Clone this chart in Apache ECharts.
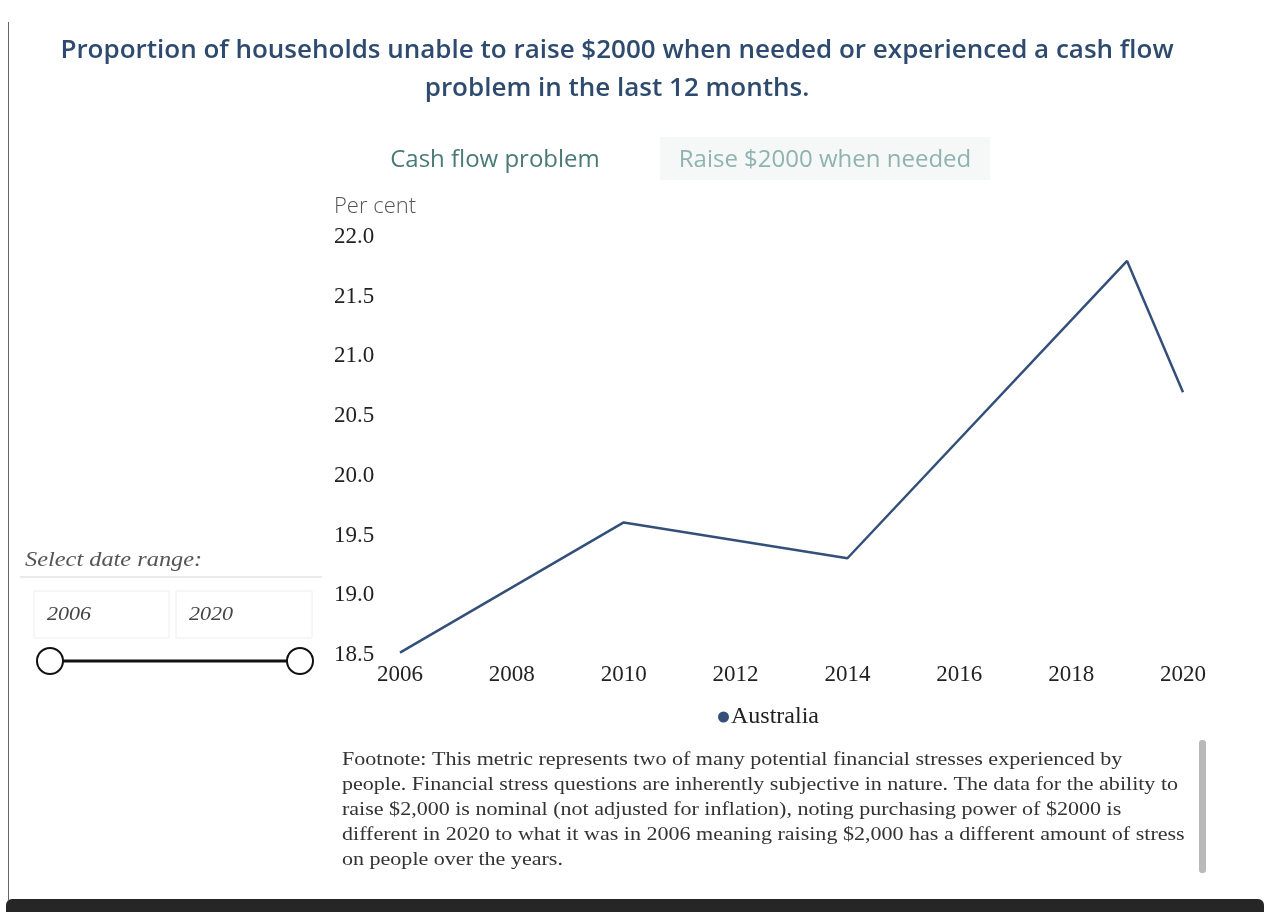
<!DOCTYPE html>
<html>
<head>
<meta charset="utf-8">
<script src="https://cdn.jsdelivr.net/npm/echarts@6/dist/echarts.min.js"></script>
<style>
  html, body { margin: 0; padding: 0; background: #fff; }
  #chart { width: 1264px; height: 912px; }
</style>
</head>
<body>
<div id="chart"></div>
<script>
// values
const years = [2006, 2010, 2014, 2019, 2020]
const cashFlow = [18.52, 19.61, 19.31, 21.80, 20.70]
const rangeLabels = ['2006', '2020']
const titleLines = [
  'Proportion of households unable to raise $2000 when needed or experienced a cash flow',
  'problem in the last 12 months.'
]
const tabLabels = ['Cash flow problem', 'Raise $2000 when needed']
const footnoteLines = [
  'Footnote: This metric represents two of many potential financial stresses experienced by',
  'people. Financial stress questions are inherently subjective in nature. The data for the ability to',
  'raise $2,000 is nominal (not adjusted for inflation), noting purchasing power of $2000 is',
  'different in 2020 to what it was in 2006 meaning raising $2,000 has a different amount of stress',
  'on people over the years.'
]

const serif = '"Liberation Serif", "DejaVu Serif", serif'
const sans = '"Open Sans", "Noto Sans", sans-serif'
const lineColor = '#34507a'

const chart = echarts.init(document.getElementById('chart'))

// the serif text in the source is a bit wider than Liberation Serif, so stretch it a little
const wide = 1.16

const graphics = [
  // page frame
  { type: 'line', shape: { x1: 8.5, y1: 22, x2: 8.5, y2: 900 }, style: { stroke: '#666', lineWidth: 1 } },
  { type: 'rect', shape: { x: 6, y: 899, width: 1258, height: 20, r: [6, 6, 0, 0] }, style: { fill: '#262626' } },
  // title
  { type: 'text', x: 617, y: 51, style: { text: titleLines[0], font: '600 26px ' + sans, fill: '#2e4a6e', align: 'center', verticalAlign: 'middle' } },
  { type: 'text', x: 617, y: 89, style: { text: titleLines[1], font: '600 26px ' + sans, fill: '#2e4a6e', align: 'center', verticalAlign: 'middle' } },
  // tabs
  { type: 'text', x: 495, y: 160, style: { text: tabLabels[0], font: '500 24px ' + sans, fill: '#4a7a78', align: 'center', verticalAlign: 'middle' } },
  { type: 'rect', shape: { x: 660, y: 137, width: 330, height: 43 }, style: { fill: '#f6f8f7' } },
  { type: 'text', x: 825, y: 160, style: { text: tabLabels[1], font: '500 24px ' + sans, fill: '#8fb3b0', align: 'center', verticalAlign: 'middle' } },
  // axis caption
  { type: 'text', x: 334, y: 207, style: { text: 'Per cent', font: '300 22px ' + sans, fill: '#555', align: 'left', verticalAlign: 'middle' } },
  // date range selector
  { type: 'text', x: 25, y: 560, scaleX: wide, style: { text: 'Select date range:', font: 'italic 21px ' + serif, fill: '#555', align: 'left', verticalAlign: 'middle' } },
  { type: 'line', shape: { x1: 20, y1: 577, x2: 322, y2: 577 }, style: { stroke: '#e4e4e4', lineWidth: 1.5 } },
  { type: 'rect', shape: { x: 34, y: 591, width: 135, height: 47 }, style: { fill: '#fff', stroke: '#eeeeee', lineWidth: 1 } },
  { type: 'rect', shape: { x: 176, y: 591, width: 136, height: 47 }, style: { fill: '#fff', stroke: '#eeeeee', lineWidth: 1 } },
  { type: 'text', x: 47, y: 615, scaleX: wide, style: { text: rangeLabels[0], font: 'italic 19px ' + serif, fill: '#444', align: 'left', verticalAlign: 'middle' } },
  { type: 'text', x: 189, y: 615, scaleX: wide, style: { text: rangeLabels[1], font: 'italic 19px ' + serif, fill: '#444', align: 'left', verticalAlign: 'middle' } },
  { type: 'line', shape: { x1: 50, y1: 661, x2: 300, y2: 661 }, style: { stroke: '#111', lineWidth: 3 } },
  { type: 'circle', shape: { cx: 50, cy: 661, r: 13 }, style: { fill: '#fff', stroke: '#111', lineWidth: 2 } },
  { type: 'circle', shape: { cx: 300, cy: 661, r: 13 }, style: { fill: '#fff', stroke: '#111', lineWidth: 2 } },
  // scrollbar beside footnote
  { type: 'rect', shape: { x: 1199, y: 740, width: 7, height: 133, r: 3 }, style: { fill: '#b9b9b9' } }
]

footnoteLines.forEach((t, i) => {
  graphics.push({
    type: 'text',
    x: 342,
    y: 760 + i * 25,
    scaleX: wide,
    style: { text: t, font: '19px ' + serif, fill: '#333', align: 'left', verticalAlign: 'middle' }
  })
})

const option = {
  animation: false,
  backgroundColor: '#fff',
  grid: { left: 400, right: 81, top: 237, bottom: 257, containLabel: false },
  legend: {
    left: 713,
    top: 700,
    icon: 'circle',
    itemWidth: 11,
    itemHeight: 11,
    itemGap: 4,
    textStyle: { fontFamily: serif, fontSize: 24, color: '#222', padding: [0, 0, 0, -3] },
    data: ['Australia']
  },
  xAxis: {
    type: 'value',
    min: 2006,
    max: 2020,
    interval: 2,
    axisLine: { show: false },
    axisTick: { show: false },
    splitLine: { show: false },
    axisLabel: { fontFamily: serif, fontSize: 23, color: '#222', margin: 8, formatter: v => String(v) }
  },
  yAxis: {
    type: 'value',
    min: 18.5,
    max: 22,
    interval: 0.5,
    axisLine: { show: false },
    axisTick: { show: false },
    splitLine: { show: false },
    axisLabel: {
      fontFamily: serif,
      fontSize: 23,
      color: '#222',
      align: 'left',
      margin: 66,
      formatter: v => v.toFixed(1)
    }
  },
  series: [{
    name: 'Australia',
    type: 'line',
    data: years.map((y, i) => [y, cashFlow[i]]),
    showSymbol: false,
    itemStyle: { color: lineColor },
    lineStyle: { color: lineColor, width: 2.5 }
  }],
  graphic: graphics
}

chart.setOption(option)
</script>
</body>
</html>
